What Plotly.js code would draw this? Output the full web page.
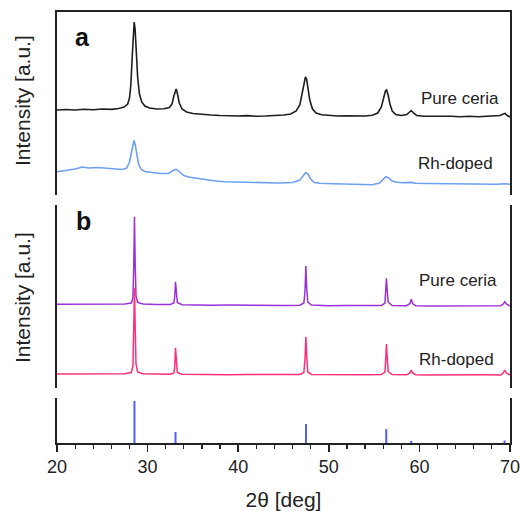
<!DOCTYPE html>
<html>
<head>
<meta charset="utf-8">
<script src="https://cdn.plot.ly/plotly-3.0.1.min.js"></script>
<style>html,body{margin:0;padding:0;background:#fff;}#chart{width:521px;height:511px;}</style>
</head>
<body>
<div id="chart"></div>
<script>
// ---- Panel a (broad peaks) ----
const aPureX = [20,21,22,23,24,25,26,26.8,27.4,27.8,28.0,28.15,28.3,28.42,28.52,28.62,28.75,28.9,29.1,29.35,29.7,30.2,31,31.8,32.4,32.7,32.9,33.05,33.15,33.3,33.5,33.8,34.3,35,36,37,38,39,40,41,42,43,44,45,45.8,46.4,46.8,47.05,47.25,47.42,47.55,47.7,47.9,48.2,48.6,49.2,50,51,52,53,54,54.8,55.4,55.8,56.05,56.25,56.38,56.55,56.75,57.0,57.4,58,58.6,58.9,59.1,59.35,59.7,60.5,61.5,62.5,63.5,64.5,65.5,66.5,67.5,68.4,68.9,69.25,69.45,69.7,70];
const aPureY = [85,85.5,85,85.8,85.3,86,85.6,86.5,88,91,97,110,138,163,173,166,143,118,101,93,89,87,86,86.3,87.5,91,99,105,106,101,92,86,83,81.5,80.5,80,79.5,79.2,79,79.4,78.8,79,79.3,80,81,84,90,102,113,118,116,107,95,86,82,80.3,79.5,79,79.3,78.8,79,79.8,82,88,98,104,105,100,91,84,80.5,79.5,80.5,83,84.5,82,79.5,78.8,79,78.5,78.8,78.3,78.7,78.2,78.5,78.6,79.5,81,81.5,79.5,78];

const aRhX = [20,21,22,22.8,23.5,24.5,25.5,26.4,27.2,27.7,28.0,28.2,28.4,28.5,28.62,28.8,29.0,29.3,29.7,30.5,31.5,32.3,32.7,33.0,33.2,33.5,34,34.5,35.5,36.5,37.5,38.5,40,41.5,43,44.5,46,46.8,47.2,47.45,47.7,48,48.4,49,50.5,52,53.5,54.8,55.6,56.0,56.3,56.6,57,57.5,58.2,59,59.6,61,62.5,64,65.5,67,68.5,69.4,70];
const aRhY = [23.3,24.5,26,28,27,27.5,26.8,26,25.5,27,33,42,52,54.5,51,41,31,25.5,23.5,22.5,21.5,21.5,23.5,25.5,25.5,23,19.5,18,16.5,15,14,13.3,12.8,12.5,12.3,12,12.5,15,19.5,22.5,21,16,12.5,11.8,11.2,10.8,10.5,10.3,12,15.5,18.3,17,14,12.8,12.2,12.6,11.8,11.5,11.3,11.5,11,11.2,10.8,11.3,10.8];

// ---- Panel b (sharp peaks) ----
const bPureX = [20,22,24,26,27.5,28.2,28.38,28.47,28.55,28.63,28.72,28.9,29.5,31,32.5,32.9,33.0,33.08,33.16,33.28,33.8,35,37,39,41,43,45,46.8,47.25,47.38,47.47,47.56,47.68,48.1,50,52,54,55.8,56.2,56.3,56.36,56.43,56.55,57,58.6,58.95,59.1,59.25,59.6,61,63,65,67,69,69.25,69.42,69.6,70];
const bPureY = [83.7,83.8,83.6,83.8,84,85,90,120,171.3,125,92,85.5,84,83.6,83.5,85,92,106.3,94,85.5,83.3,83,82.8,82.9,82.5,82.7,82.4,82.8,85,98,122,100,86,83,82.3,82.5,82.2,82.5,85,100,109.7,100,86,82.5,82.3,84.5,88.7,84.5,82.3,82,82.2,81.9,82.1,82.3,84,86.3,84,82];

const bRhX = [20,22,24,26,27.5,28.2,28.38,28.47,28.55,28.63,28.72,28.9,29.5,31,32.5,32.9,33.0,33.08,33.16,33.28,33.8,35,37,39,41,43,45,46.8,47.25,47.38,47.47,47.56,47.68,48.1,50,52,54,55.8,56.2,56.3,56.36,56.43,56.55,57,58.6,58.95,59.1,59.25,59.6,61,63,65,67,69,69.25,69.42,69.6,70];
const bRhY = [14,14.2,13.8,14.1,14.3,15.5,22,60,99.7,62,24,16,14.3,14,13.8,15,22,40.3,25,15.5,13.7,13.5,13.6,13.3,13.5,13.2,13.4,13.6,15.5,30,51.3,32,16,13.6,13.3,13.5,13.2,13.5,16,32,44,33,16.5,13.4,13.2,15,18,15,13.3,13.1,13.3,13,13.2,13.1,15,18,15,13];

// ---- Reference pattern (sticks) ----
const refX = [28.55,33.08,47.48,56.34,59.09,69.4];
const refY = [100,26,45,33,5,6];

const labels = {pure:'Pure ceria', rh:'Rh-doped', a:'a', b:'b', ytitle:'Intensity [a.u.]', xtitle:'2θ [deg]'};

const FONT = 'Arial, "Liberation Sans", sans-serif';
const TXT = '#222';

// stick pattern drawn as vertical line segments from the arrays
const stickX = refX.flatMap(v => [v, v, null]);
const stickY = refY.flatMap(v => [0, v, null]);

const traces = [
  {x:aPureX, y:aPureY, xaxis:'x2', yaxis:'y', mode:'lines', line:{color:'#1e1e1e', width:1.6}, hoverinfo:'skip'},
  {x:aRhX, y:aRhY, xaxis:'x2', yaxis:'y', mode:'lines', line:{color:'#6e9ff2', width:1.6}, hoverinfo:'skip'},
  {x:bPureX, y:bPureY, xaxis:'x', yaxis:'y2', mode:'lines', line:{color:'#9a32d8', width:1.5}, hoverinfo:'skip'},
  {x:bRhX, y:bRhY, xaxis:'x', yaxis:'y2', mode:'lines', line:{color:'#ff2d7a', width:1.5}, hoverinfo:'skip'},
  {x:stickX, y:stickY, xaxis:'x', yaxis:'y3', mode:'lines', connectgaps:false, line:{color:'#4d5cff', width:2}, hoverinfo:'skip'}
];

const yBase = {showline:true, mirror:true, linecolor:'#222', linewidth:2, showticklabels:false, ticks:'', showgrid:false, zeroline:false, fixedrange:true};

const layout = {
  width:521, height:511,
  margin:{l:57, r:11, t:12, b:68},
  paper_bgcolor:'#fff', plot_bgcolor:'#fff',
  showlegend:false,
  font:{family:FONT, color:TXT},
  xaxis:{
    domain:[0,1], range:[20,70], anchor:'y3',
    showline:true, linecolor:'#222', linewidth:1.8,
    tickmode:'linear', tick0:20, dtick:10,
    ticks:'outside', ticklen:7, tickwidth:1.5, tickcolor:'#222',
    tickfont:{family:FONT, size:18, color:TXT},
    minor:{tickmode:'linear', tick0:20, dtick:2, ticks:'outside', ticklen:4, tickwidth:1.2, tickcolor:'#222', showgrid:false},
    showgrid:false, zeroline:false,
    title:{text:labels.xtitle, font:{family:FONT, size:21, color:TXT}, standoff:20}
  },
  xaxis2:{
    domain:[0,1], range:[20,70], anchor:'y', side:'top',
    showline:true, linecolor:'#222', linewidth:2,
    ticks:'', showticklabels:false, showgrid:false, zeroline:false
  },
  yaxis: Object.assign({}, yBase, {domain:[0.5754,1], range:[0,183]}),
  yaxis2: Object.assign({}, yBase, {domain:[0.1276,0.5522], range:[0,183]}),
  yaxis3: Object.assign({}, yBase, {domain:[0,0.1044], range:[0,107]}),
  annotations:[
    {text:labels.a, xref:'x2', yref:'y', x:22.76, y:158, xanchor:'center', yanchor:'middle', showarrow:false, font:{family:FONT, size:25, color:'#111', weight:'bold'}},
    {text:labels.b, xref:'x', yref:'y2', x:22.9, y:167, xanchor:'center', yanchor:'middle', showarrow:false, font:{family:FONT, size:25, color:'#111', weight:'bold'}},
    {text:labels.pure, xref:'x2', yref:'y', x:64.5, y:96.5, xanchor:'center', yanchor:'middle', showarrow:false, font:{family:FONT, size:17, color:TXT}},
    {text:labels.rh, xref:'x2', yref:'y', x:64.0, y:31.5, xanchor:'center', yanchor:'middle', showarrow:false, font:{family:FONT, size:17, color:TXT}},
    {text:labels.pure, xref:'x', yref:'y2', x:64.26, y:107.5, xanchor:'center', yanchor:'middle', showarrow:false, font:{family:FONT, size:17, color:TXT}},
    {text:labels.rh, xref:'x', yref:'y2', x:64.04, y:29, xanchor:'center', yanchor:'middle', showarrow:false, font:{family:FONT, size:17, color:TXT}},
    {text:labels.ytitle, xref:'paper', yref:'paper', x:-0.0773, y:0.7958, xanchor:'center', yanchor:'middle', textangle:-90, showarrow:false, font:{family:FONT, size:21, color:TXT}},
    {text:labels.ytitle, xref:'paper', yref:'paper', x:-0.0773, y:0.3387, xanchor:'center', yanchor:'middle', textangle:-90, showarrow:false, font:{family:FONT, size:21, color:TXT}}
  ]
};

Plotly.newPlot('chart', traces, layout, {staticPlot:true, displayModeBar:false});
</script>
</body>
</html>
